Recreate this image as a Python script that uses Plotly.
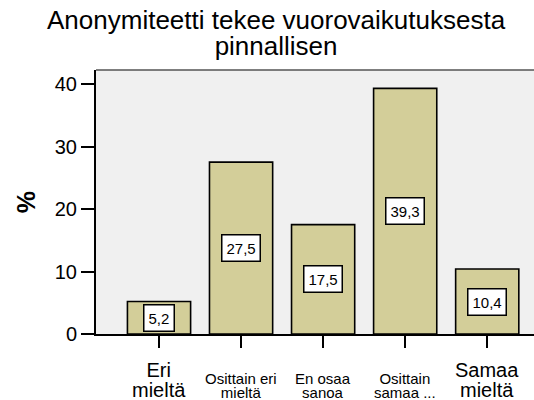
import plotly.graph_objects as go

categories = ["Eri mieltä", "Osittain eri mieltä", "En osaa sanoa", "Osittain samaa mieltä", "Samaa mieltä"]
values = [5.2, 27.5, 17.5, 39.3, 10.4]
value_labels = ["5,2", "27,5", "17,5", "39,3", "10,4"]
tick_labels = ["Eri<br>mieltä", "Osittain eri<br>mieltä", "En osaa<br>sanoa", "Osittain<br>samaa ...", "Samaa<br>mieltä"]
y_ticks = [0, 10, 20, 30, 40]
title_lines = ["Anonymiteetti tekee vuorovaikutuksesta", "pinnallisen"]

# style: large or small x label text (SPSS shrinks long labels)
label_large = [True, False, False, False, True]

FONT = "Liberation Sans, Arial, sans-serif"

fig = go.Figure()
fig.add_trace(go.Bar(
    x=categories, y=values,
    marker=dict(color="#d3ce99", line=dict(color="black", width=1.6)),
    width=0.77,
    hoverinfo="skip",
))

for c, v, t in zip(categories, values, value_labels):
    fig.add_annotation(
        x=c, y=v / 2, text=t, showarrow=False,
        font=dict(family=FONT, size=15, color="black"),
        bgcolor="white", bordercolor="black", borderwidth=1.5, borderpad=4,
    )

for c, lab, big in zip(categories, tick_labels, label_large):
    fs = 20 if big else 15
    base = 15 if big else 11
    txt = "<br>".join(f"<span style='font-size:{fs}px'>{part}</span>" for part in lab.split("<br>"))
    fig.add_annotation(
        x=c, xref="x", y=0, yref="paper", yanchor="top",
        yshift=-23 if big else -34,
        text=txt, showarrow=False,
        font=dict(family=FONT, size=base, color="black"),
    )

fig.add_shape(type="line", xref="paper", yref="paper", x0=0, x1=1, y0=1, y1=1,
              line=dict(color="#555555", width=1.5))

title_text = "<br>".join(f"<span style='font-size:26px'>{t}</span>" for t in title_lines)

fig.update_layout(
    width=534, height=400,
    margin=dict(l=96, r=0, t=70, b=66),
    paper_bgcolor="white", plot_bgcolor="#f0f0f0",
    showlegend=False,
    font=dict(family=FONT, color="black"),
    title=dict(text=title_text,
               x=0.517, xanchor="center", xref="container",
               y=0.927, yanchor="top", yref="container",
               font=dict(family=FONT, size=20, color="black")),
)
fig.update_xaxes(
    type="category", range=[-0.768, 4.57],
    tickvals=categories, showticklabels=False,
    ticks="outside", ticklen=12, tickwidth=2, tickcolor="black",
    showline=True, linecolor="black", linewidth=2,
    showgrid=False,
)
fig.update_yaxes(
    range=[0, 42.24], tickvals=y_ticks,
    ticks="outside", ticklen=13, tickwidth=2, tickcolor="black",
    showline=True, linecolor="black", linewidth=2,
    showgrid=False, zeroline=False,
    tickfont=dict(family=FONT, size=20, color="black"),
    title=dict(text="<b>%</b>", font=dict(family=FONT, size=25, color="black"), standoff=12),
)

fig.write_html("out.html", config={"displayModeBar": False},
               post_script="document.body.style.margin='0';document.body.style.overflow='hidden';")
